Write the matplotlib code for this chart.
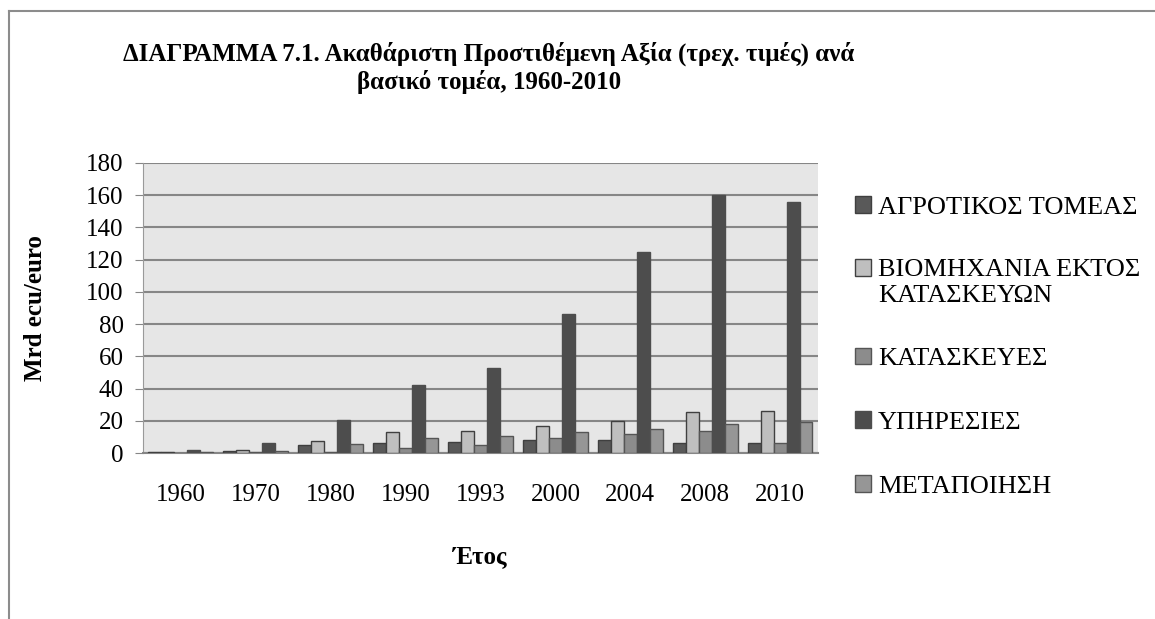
import numpy as np
import matplotlib
matplotlib.use("Agg")
import matplotlib.pyplot as plt
from matplotlib.lines import Line2D

plt.rcParams['font.family'] = ['Liberation Serif', 'DejaVu Serif']

years = ['1960', '1970', '1980', '1990', '1993', '2000', '2004', '2008', '2010']
agri = [0.8, 1.5, 5.0, 6.5, 7.0, 8.0, 8.3, 6.5, 6.3]
industry = [0.8, 2.2, 7.3, 12.8, 13.8, 16.5, 20.0, 25.3, 26.3]
construction = [0.3, 0.5, 0.8, 3.0, 5.0, 9.3, 11.7, 13.8, 6.5]
services = [2.0, 6.0, 20.3, 42.5, 53.0, 86.5, 124.8, 160.0, 156.0]
manufacturing = [0.6, 1.5, 5.8, 9.3, 10.3, 13.0, 15.0, 18.2, 19.2]

labels = ['ΑΓΡΟΤΙΚΟΣ ΤΟΜΕΑΣ', 'ΒΙΟΜΗΧΑΝΙΑ ΕΚΤΟΣ\nΚΑΤΑΣΚΕΥΩΝ', 'ΚΑΤΑΣΚΕΥΕΣ',
          'ΥΠΗΡΕΣΙΕΣ', 'ΜΕΤΑΠΟΙΗΣΗ']
series = [agri, industry, construction, services, manufacturing]
colors = ['#595959', '#bfbfbf', '#8c8c8c', '#4d4d4d', '#969696']
edges = ['#3f3f3f', '#404040', '#555555', '#4d4d4d', '#555555']

fig = plt.figure(figsize=(11.55, 6.19), dpi=100)
ax = fig.add_axes([0.124, 0.268, 0.584, 0.469])
ax.set_facecolor('#e6e6e6')

x = np.arange(len(years))
w = 0.172
for i, vals in enumerate(series):
    ax.bar(x + (i - 2) * w, vals, w, color=colors[i], edgecolor=edges[i],
           linewidth=1, label=labels[i], zorder=3)

ax.set_xlim(-0.5, len(years) - 0.5)
ax.set_ylim(0, 180)
ax.set_yticks(range(0, 181, 20))
ax.set_xticks(x)
ax.set_xticklabels(years)
ax.grid(axis='y', color='#868686', linewidth=1.5, zorder=1)
ax.set_axisbelow(True)
for s in ['top', 'right']:
    ax.spines[s].set_visible(False)
ax.spines['left'].set_color('#9a9a9a')
ax.spines['bottom'].set_color('#868686')
ax.spines['bottom'].set_linewidth(1.5)
ax.tick_params(axis='y', length=6, color='#868686', labelsize=18, pad=8)
ax.tick_params(axis='x', length=0, labelsize=18, pad=22)

ax.set_ylabel('Mrd ecu/euro', fontsize=18, fontweight='bold', labelpad=28)
ax.set_xlabel('Έτος', fontsize=18, fontweight='bold', labelpad=28)

fig.text(0.423, 0.891, 'ΔΙΑΓΡΑΜΜΑ 7.1. Ακαθάριστη Προστιθέμενη Αξία (τρεχ. τιμές) ανά\nβασικό τομέα, 1960-2010',
         ha='center', va='center', fontsize=18, fontweight='bold', linespacing=1.2)

leg = fig.legend(loc='upper left', bbox_to_anchor=(0.72, 0.722), frameon=False,
                 fontsize=19, handlelength=0.6, handleheight=0.6, handletextpad=0.25,
                 labelspacing=1.55)
# put the marker of the two-line entry next to its first line
try:
    rows = leg._legend_handle_box.get_children()[0].get_children()
    rows[1].align = 'top'
except Exception:
    pass

# outer chart border (left and top only visible)
fig.add_artist(Line2D([0.008, 0.008], [0.0, 0.982], color='#8c8c8c', linewidth=1.5))
fig.add_artist(Line2D([0.008, 1.0], [0.982, 0.982], color='#8c8c8c', linewidth=1.5))

fig.savefig('out.png', dpi=100)
